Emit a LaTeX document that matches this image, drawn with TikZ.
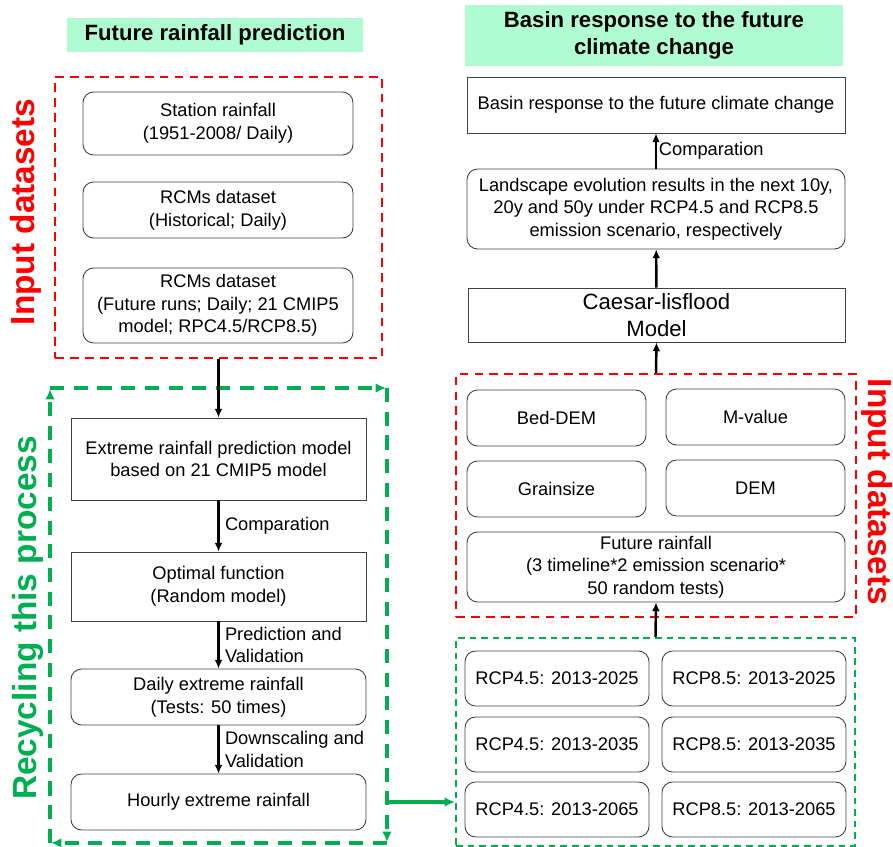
\documentclass[tikz,border=0pt]{standalone}
\usepackage{fontspec}
\setmainfont{Liberation Sans}
\usetikzlibrary{arrows.meta,calc}
\definecolor{mygreen}{RGB}{0,176,80}
\definecolor{myred}{RGB}{255,0,0}
\definecolor{mymint}{RGB}{176,252,210}

\begin{document}
\begin{tikzpicture}[x=0.02cm,y=-0.02cm,
    box/.style={draw=black!75,line width=0.5pt,align=center,inner sep=1pt,font=\fontsize{10.4}{12.9}\selectfont},
    rbox/.style={box,rounded corners=6pt},
    headbox/.style={fill=mymint,align=center,inner sep=0pt,font=\fontsize{12.6}{15.3}\selectfont\bfseries},
    frame/.style={draw,line width=1.4pt,dash pattern=on 5pt off 3.5pt},
    cyc/.style={mygreen,line width=2pt,dash pattern=on 8pt off 5.5pt,-{Latex[length=6pt,width=5.5pt]},shorten >=0.5pt},
    side/.style={font=\fontsize{19}{22}\selectfont\bfseries},
    lab/.style={align=left,inner sep=3pt,font=\fontsize{10.4}{12.9}\selectfont},
    arr/.style={-{Latex[length=5pt,width=4.5pt]},line width=1.4pt}]

    \useasboundingbox (0,0) rectangle (893,847);

    % left column: future rainfall prediction
    \node[headbox,minimum width=5.92cm,minimum height=0.68cm] (headL) at (215,35) {Future rainfall prediction};

    \node[frame,myred,minimum width=6.54cm,minimum height=5.62cm] (inL) at (218.5,217.5) {};
    \node[side,myred,rotate=90] (inLtxt) at (26,212) {Input datasets};

    \node[rbox,minimum width=5.4cm,minimum height=1.26cm] (station) at (218,123.5) {Station rainfall\\(1951-2008/ Daily)};
    \node[rbox,minimum width=5.4cm,minimum height=1.12cm] (hist) at (218,210) {RCMs dataset\\(Historical; Daily)};
    \node[rbox,minimum width=5.4cm,minimum height=1.5cm] (future) at (218,305.5) {RCMs dataset\\(Future runs; Daily; 21 CMIP5\\model; RPC4.5/RCP8.5)};

    % recycling loop
    \node[minimum width=6.74cm,minimum height=9.1cm,inner sep=0pt,outer sep=0pt] (cycL) at (218.5,615.5) {};
    \foreach \a/\b in {south west/north west,north west/north east,north east/south east,south east/south west}{% four sides, clockwise
      \draw[cyc] (cycL.\a) -- (cycL.\b);
    }
    \node[side,mygreen,rotate=90] (cycTxt) at (28,618) {Recycling this process};

    \node[box,minimum width=5.9cm,minimum height=1.64cm] (extreme) at (218.5,459) {Extreme rainfall prediction model\\based on 21 CMIP5 model};
    \node[box,minimum width=5.9cm,minimum height=1.38cm] (optimal) at (218.5,586.5) {Optimal function\\(Random model)};
    \node[rbox,minimum width=5.9cm,minimum height=1.12cm] (daily) at (218.5,697) {Daily extreme rainfall\\(Tests: 50 times)};
    \node[rbox,minimum width=5.9cm,minimum height=1.12cm] (hourly) at (218.5,802) {Hourly extreme rainfall};

    \draw[arr] (inL.south) -- (extreme.north);
    \draw[arr] (extreme) -- node[lab,right] {Comparation} (optimal);
    \draw[arr] (optimal) -- node[lab,right] {Prediction and\\Validation} (daily);
    \draw[arr] (daily) -- node[lab,right] {Downscaling and\\Validation} (hourly);

    % right column: basin response
    \node[headbox,minimum width=7.56cm,minimum height=1.22cm] (headR) at (654,35.5) {Basin response to the future\\climate change};

    \node[box,minimum width=7.56cm,minimum height=1.12cm] (basin) at (656,105) {Basin response to the future climate change};
    \node[rbox,minimum width=7.56cm,minimum height=1.6cm] (land) at (656,209) {Landscape evolution results in the next 10y,\\20y and 50y under RCP4.5 and RCP8.5\\emission scenario, respectively};
    \node[box,minimum width=7.54cm,minimum height=1.08cm,font=\fontsize{12.6}{15.1}\selectfont] (caesar) at (656.5,315) {Caesar-lisflood\\Model};

    \node[frame,myred,minimum width=8cm,minimum height=4.86cm] (inR) at (656,495.5) {};
    \node[side,myred,rotate=-90] (inRtxt) at (877,492) {Input datasets};

    \node[rbox,minimum width=3.58cm,minimum height=1.12cm] (bed) at (556.5,418) {Bed-DEM};
    \node[rbox,minimum width=3.58cm,minimum height=1.12cm] (mval) at (755.5,417) {M-value};
    \node[rbox,minimum width=3.58cm,minimum height=1.12cm] (grain) at (556.5,489) {Grainsize};
    \node[rbox,minimum width=3.58cm,minimum height=1.12cm] (dem) at (755.5,488) {DEM};
    \node[rbox,minimum width=7.56cm,minimum height=1.4cm] (futrain) at (656,567) {Future rainfall\\(3 timeline*2 emission scenario*\\50 random tests)};

    \node[draw,mygreen,line width=1.1pt,dash pattern=on 3.8pt off 2.8pt,minimum width=7.98cm,minimum height=4.16cm] (scen) at (655.5,742) {};
    \foreach \m/\x in {4/557,8/754}{% two scenarios
      \foreach \yr/\y [count=\i] in {2025/678.5,2035/744.5,2065/809.5}{% three timelines
        \node[rbox,minimum width=3.68cm,minimum height=1.1cm] (rcp\m\i) at (\x,\y) {RCP\m.5: 2013-\yr};
      }
    }

    \draw[arr] (land) -- node[lab,right,inner sep=1pt] {Comparation} (basin);
    \draw[arr] (caesar) -- (land);
    \draw[arr] (inR.north) -- (caesar.south);
    \draw[arr] (scen.north) -- (futrain.south);

    \draw[mygreen,line width=1.8pt,-{Latex[length=6pt,width=5.5pt]}] (cycL.east |- hourly) -- (scen.west |- hourly);

\end{tikzpicture}
\end{document}
